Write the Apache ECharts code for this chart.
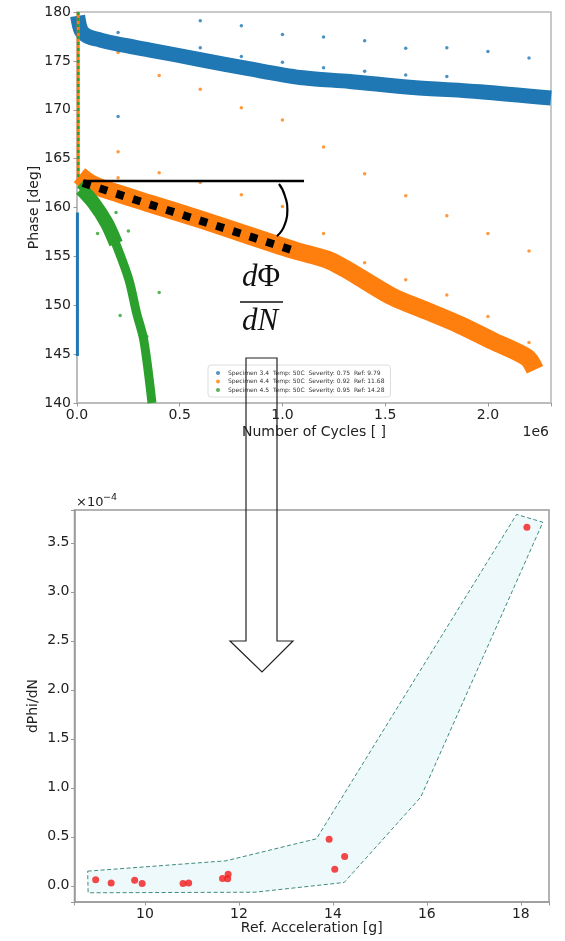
<!DOCTYPE html>
<html><head><meta charset="utf-8">
<script src="https://cdn.jsdelivr.net/npm/echarts/dist/echarts.min.js"></script>
<style>html,body{margin:0;padding:0;background:#fff}#c{width:565px;height:941px}</style>
</head><body><div id="c"></div>
<script>
// ---------- TOP CHART DATA (cycles, phase deg) ----------
const legendNames = [
  'Specimen 3.4  Temp: 50C  Severity: 0.75  Ref: 9.79',
  'Specimen 4.4  Temp: 50C  Severity: 0.92  Ref: 11.68',
  'Specimen 4.5  Temp: 50C  Severity: 0.95  Ref: 14.28'
];
// dense band centre-lines
const blueBandX = [0.003e6, 0.02e6, 0.049e6, 0.112e6, 0.195e6, 0.355e6, 0.599e6, 0.842e6, 1.085e6, 1.328e6, 1.635e6, 1.961e6, 2.307e6];
const blueBandY = [179.6, 178.1, 177.55, 177.14, 176.73, 176.11, 175.14, 174.17, 173.30, 172.89, 172.28, 171.85, 171.2];
const blueStreakX = [0.002e6, 0.002e6];
const blueStreakY = [159.5, 144.8];
const orangeBandX = [0.012e6, 0.063e6, 0.112e6, 0.355e6, 0.599e6, 0.842e6, 1.061e6, 1.217e6, 1.300e6, 1.377e6, 1.538e6, 1.703e6, 1.864e6, 2.024e6, 2.190e6, 2.229e6];
const orangeBandY = [163.3, 162.5, 162.05, 160.4, 158.8, 157.1, 155.6, 154.68, 153.8, 152.84, 150.84, 149.41, 147.98, 146.34, 144.65, 143.4];
const earlyStreakX = [0.006e6, 0.006e6];
const earlyStreakY = [180, 163];
const greenBandX = [0.015e6, 0.042e6, 0.097e6, 0.145e6, 0.195e6, 0.253e6, 0.290e6, 0.325e6, 0.365e6];
const greenBandY = [162.4, 161.79, 160.05, 158.41, 155.96, 152.58, 149.21, 146.45, 140.0];
const greenBlobX = [0.02e6, 0.08e6, 0.145e6, 0.19e6];
const greenBlobY = [161.9, 160.5, 158.41, 156.3];
// sparse outlier points
const blueOutX = [0.2e6,0.2e6,0.6e6,0.6e6,0.8e6,0.8e6,1.0e6,1.0e6,1.2e6,1.2e6,1.4e6,1.4e6,1.6e6,1.6e6,1.8e6,1.8e6,2.0e6,2.2e6];
const blueOutY = [177.9,169.3,179.1,176.35,178.6,175.45,177.7,174.85,177.45,174.3,177.05,173.95,176.3,173.55,176.35,173.4,175.95,175.3];
const orangeOutX = [0.2e6,0.2e6,0.2e6,0.4e6,0.4e6,0.6e6,0.6e6,0.8e6,0.8e6,1.0e6,1.0e6,1.2e6,1.2e6,1.4e6,1.4e6,1.6e6,1.6e6,1.8e6,1.8e6,2.0e6,2.0e6,2.2e6,2.2e6];
const orangeOutY = [175.85,165.7,163.05,173.5,163.55,172.1,162.55,170.2,161.3,168.95,160.1,166.2,157.35,163.45,154.35,161.2,152.6,159.15,151.05,157.35,148.85,155.55,146.2];
const greenOutX = [0.1e6,0.19e6,0.25e6,0.21e6,0.34e6,0.4e6];
const greenOutY = [157.35,159.5,157.6,148.95,146.8,151.3];
// annotations (data coordinates)
const refLineX = [0.03e6, 1.105e6];
const refLineY = [162.71, 162.71];
const slopeLineX = [0.029e6, 1.061e6];
const slopeLineY = [162.51, 155.55];
const arcX = [0.983e6, 1.012e6, 1.024e6, 1.012e6, 0.973e6];
const arcY = [162.40, 161.18, 159.74, 158.31, 157.08];
const cycleTicks = [0, 0.5e6, 1.0e6, 1.5e6, 2.0e6];
const phaseTicks = [140, 145, 150, 155, 160, 165, 170, 175, 180];

// ---------- BOTTOM CHART DATA (Ref. acceleration g, dPhi/dN x1e-4) ----------
const accel = [8.95, 9.28, 9.78, 9.94, 10.81, 10.93, 11.65, 11.76, 11.77, 13.92, 14.04, 14.25, 18.13];
const dphi  = [0.061, 0.030, 0.058, 0.024, 0.024, 0.030, 0.075, 0.071, 0.119, 0.476, 0.170, 0.300, 3.66];
const envAccel = [8.78, 11.72, 13.65, 17.91, 18.47, 15.87, 14.24, 12.34, 8.79];
const envDphi  = [0.15, 0.255, 0.48, 3.79, 3.71, 0.905, 0.034, -0.065, -0.071];
const accelTicks = [10, 12, 14, 16, 18];
const dphiTicks = [0.0, 0.5, 1.0, 1.5, 2.0, 2.5, 3.0, 3.5];

const zip = (xs, ys) => xs.map((x, i) => [x, ys[i]]);
const C_BLUE = '#1f77b4', C_ORANGE = '#ff7f0e', C_GREEN = '#2ca02c';
const FONT = 'DejaVu Sans';
const near = (v, arr) => arr.some(t => Math.abs(t - v) < 1e-6 * Math.max(1, Math.abs(t)));

const chart = echarts.init(document.getElementById('c'), null, {renderer: 'canvas'});
const lineS = (data, color, width, extra) => Object.assign({
  type: 'line', xAxisIndex: 0, yAxisIndex: 0, data, symbol: 'none', silent: true,
  lineStyle: {color, width, join: 'round'}, itemStyle: {color}, animation: false
}, extra || {});
const dotS = (name, data, color) => ({
  type: 'scatter', name, xAxisIndex: 0, yAxisIndex: 0, data, symbolSize: 3.5,
  itemStyle: {color}, silent: true, animation: false
});
const axisCommon = (col) => ({
  nameMoveOverlap: false,
  axisLine: {show: true, onZero: false, lineStyle: {color: col, width: 1.5}},
  axisTick: {show: true, length: 3.5, lineStyle: {color: '#999'}},
  splitLine: {show: false}
});

chart.setOption({
  animation: false,
  backgroundColor: '#fff',
  textStyle: {fontFamily: FONT},
  grid: [
    {left: 77, right: 14, top: 12, bottom: 538, show: true, borderColor: '#b8b8b8', borderWidth: 1.5, backgroundColor: '#fff', outerBoundsMode: 'none'},
    {left: 74.5, right: 16, top: 510, bottom: 39, show: true, borderColor: '#9a9a9a', borderWidth: 1.5, backgroundColor: '#fff', outerBoundsMode: 'none'}
  ],
  xAxis: [
    Object.assign({type: 'value', gridIndex: 0, min: 0, max: 2.307e6, interval: 0.5e6,
     name: 'Number of Cycles [ ]', nameLocation: 'middle', nameGap: 22,
     nameTextStyle: {fontSize: 14, color: '#222', fontFamily: FONT, verticalAlign: 'top'},
     axisLabel: {fontSize: 14, color: '#222', fontFamily: FONT, margin: 5,
       formatter: v => near(v, cycleTicks) ? (v / 1e6).toFixed(1) : ''}}, axisCommon('#b8b8b8')),
    Object.assign({type: 'value', gridIndex: 1, min: 8.5, max: 18.6, minInterval: 2, maxInterval: 2,
     name: 'Ref. Acceleration [g]', nameLocation: 'middle', nameGap: 19,
     nameTextStyle: {fontSize: 14, color: '#222', fontFamily: FONT, verticalAlign: 'top'},
     axisLabel: {fontSize: 14, color: '#222', fontFamily: FONT, margin: 5,
       formatter: v => near(v, accelTicks) ? String(v) : ''}}, axisCommon('#9a9a9a'))
  ],
  yAxis: [
    Object.assign({type: 'value', gridIndex: 0, min: 140, max: 180, interval: 5,
     name: 'Phase [deg]', nameLocation: 'middle', nameGap: 36,
     nameTextStyle: {fontSize: 14, color: '#222', fontFamily: FONT},
     axisLabel: {fontSize: 14, color: '#222', fontFamily: FONT, margin: 6,
       formatter: v => near(v, phaseTicks) ? String(v) : ''}}, axisCommon('#b8b8b8')),
    Object.assign({type: 'value', gridIndex: 1, min: -0.165, max: 3.835, minInterval: 0.5, maxInterval: 0.5,
     name: 'dPhi/dN', nameLocation: 'middle', nameGap: 34,
     nameTextStyle: {fontSize: 14, color: '#222', fontFamily: FONT},
     axisLabel: {fontSize: 14, color: '#222', fontFamily: FONT, margin: 5,
       formatter: v => near(v, dphiTicks) ? v.toFixed(1) : ''}}, axisCommon('#9a9a9a'))
  ],
  legend: {
    orient: 'vertical', left: 208, top: 365, data: legendNames, icon: 'circle',
    itemWidth: 4, itemHeight: 4, itemGap: 2.5, padding: [5, 6, 4, 8],
    textStyle: {fontSize: 6, color: '#333', fontFamily: FONT, padding: [0, 0, 0, 3]},
    backgroundColor: 'rgba(255,255,255,0.8)', borderColor: '#ddd', borderWidth: 1, borderRadius: 3,
    selectedMode: false
  },
  series: [
    // blue specimen 3.4
    lineS(zip(blueBandX, blueBandY), C_BLUE, 15, {smooth: 0.3}),
    lineS(zip(blueStreakX, blueStreakY), C_BLUE, 3),
    dotS(legendNames[0], zip(blueOutX, blueOutY), C_BLUE),
    // orange specimen 4.4
    lineS(zip(earlyStreakX, earlyStreakY), C_ORANGE, 3),
    lineS(zip(orangeBandX, orangeBandY), C_ORANGE, 18, {smooth: 0.3}),
    dotS(legendNames[1], zip(orangeOutX, orangeOutY), C_ORANGE),
    // green specimen 4.5
    lineS(zip(earlyStreakX, earlyStreakY), C_GREEN, 2, {lineStyle: {color: C_GREEN, width: 2.5, type: [3, 3]}}),
    lineS(zip(greenBandX, greenBandY), C_GREEN, 9, {smooth: 0.3}),
    lineS(zip(greenBlobX, greenBlobY), C_GREEN, 14, {smooth: 0.3}),
    dotS(legendNames[2], zip(greenOutX, greenOutY), C_GREEN),
    // annotations
    lineS(zip(refLineX, refLineY), '#000', 2.5, {z: 5}),
    lineS(zip(slopeLineX, slopeLineY), '#000', 8, {z: 5, lineStyle: {color: '#000', width: 8, type: [8, 9.5], cap: 'butt'}}),
    lineS(zip(arcX, arcY), '#000', 2.2, {z: 5, smooth: 0.6}),
    // bottom chart envelope
    {type: 'custom', xAxisIndex: 1, yAxisIndex: 1, silent: true, animation: false,
     data: [[envAccel[0], envDphi[0]]],
     renderItem: (params, api) => ({
       type: 'polygon',
       shape: {points: envAccel.map((a, i) => api.coord([a, envDphi[i]]))},
       style: {fill: '#eef9fc', stroke: '#3f8c7c', lineWidth: 1, lineDash: [4, 2.5]}
     })},
    {type: 'scatter', xAxisIndex: 1, yAxisIndex: 1, data: zip(accel, dphi), symbolSize: 7,
     itemStyle: {color: '#f21a1a'}, silent: true, animation: false, z: 4}
  ],
  graphic: [
    {type: 'text', x: 549, y: 432, z: 20, style: {text: '1e6', font: '14px "DejaVu Sans"', fill: '#222', align: 'right', verticalAlign: 'middle'}},
    {type: 'text', x: 76, y: 503, z: 20, style: {text: '\u00d710', font: '13px "DejaVu Sans"', fill: '#222', align: 'left', verticalAlign: 'middle'}},
    {type: 'text', x: 103, y: 497.5, z: 20, style: {text: '\u22124', font: '9.5px "DejaVu Sans"', fill: '#222', align: 'left', verticalAlign: 'middle'}},
    {type: 'text', x: 261, y: 278, z: 20, style: {text: '{a|d}{b|\u03a6}', align: 'center', verticalAlign: 'middle',
      rich: {a: {fontFamily: 'Liberation Serif', fontStyle: 'italic', fontSize: 31, fill: '#111'}, b: {fontFamily: 'Liberation Serif', fontSize: 31, fill: '#111'}}}},
    {type: 'line', z: 20, shape: {x1: 240, y1: 302, x2: 283, y2: 302}, style: {stroke: '#111', lineWidth: 1.6}},
    {type: 'text', x: 260, y: 322, z: 20, style: {text: 'dN', align: 'center', verticalAlign: 'middle',
      font: 'italic 31px "Liberation Serif"', fill: '#111'}},
    {type: 'polygon', z: 30, shape: {points: [[246, 358], [277, 358], [277, 641], [293, 641], [262, 672], [230, 641], [246, 641]]},
     style: {fill: 'none', stroke: '#222', lineWidth: 1.2}}
  ]
});
</script></body></html>
